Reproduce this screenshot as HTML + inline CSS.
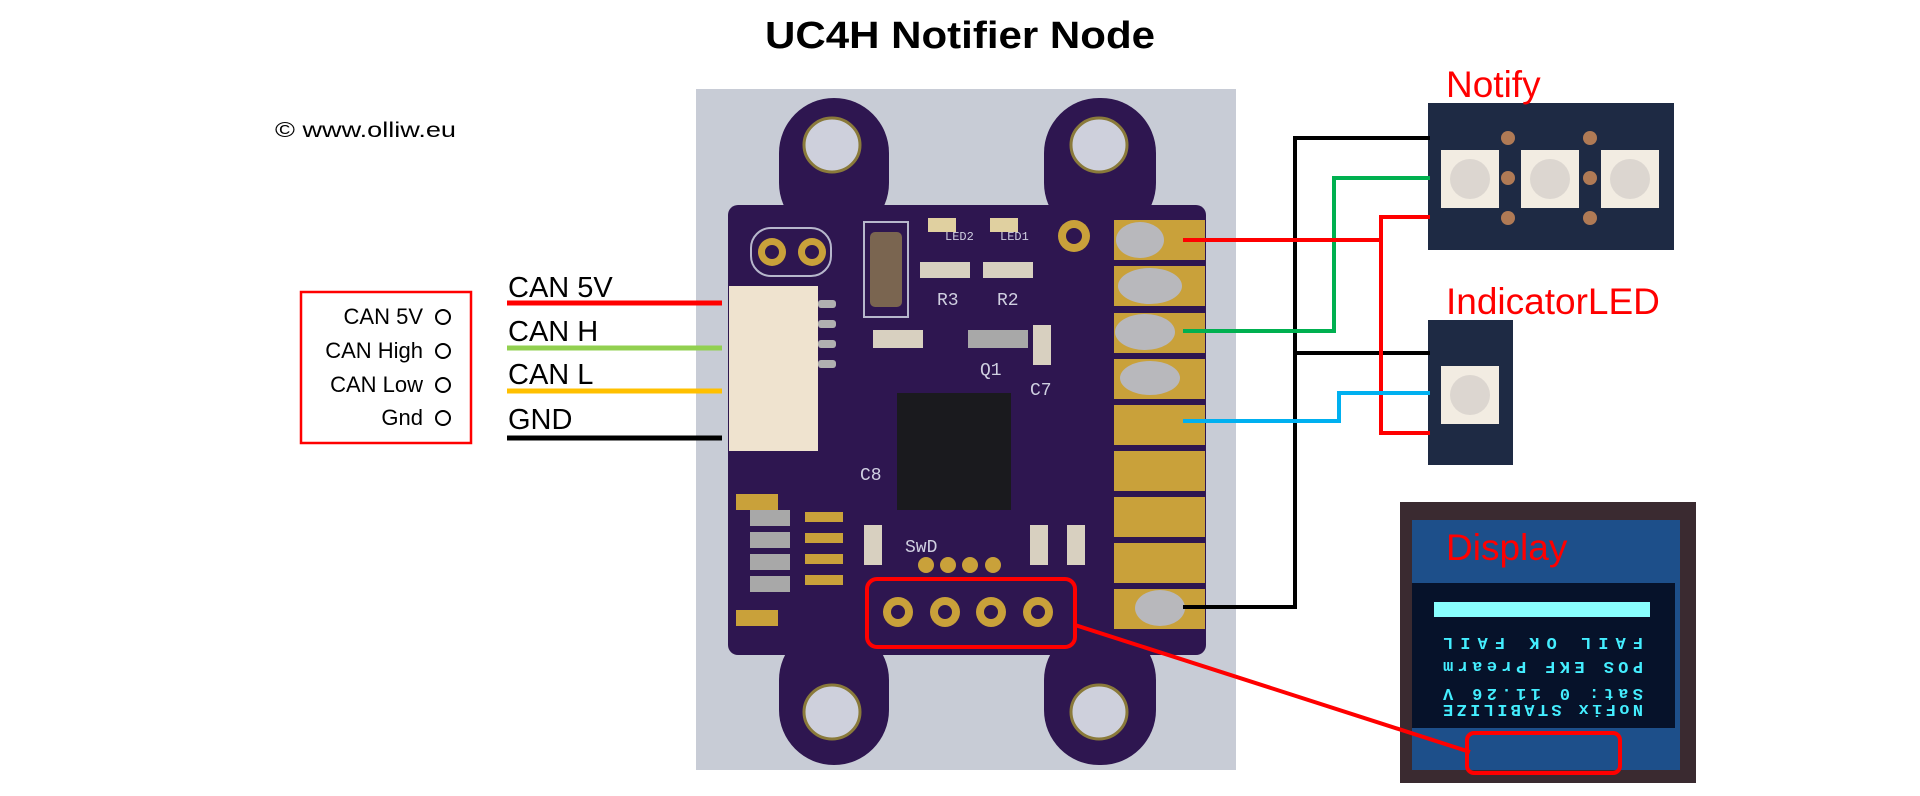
<!DOCTYPE html>
<html><head><meta charset="utf-8"><style>
html,body{margin:0;padding:0;background:#fff;}
svg{display:block;}
</style></head><body>
<svg width="1920" height="796" viewBox="0 0 1920 796" xmlns="http://www.w3.org/2000/svg" font-family="Liberation Sans, sans-serif">
<rect width="1920" height="796" fill="#fff"/>
<text x="765" y="48" font-size="38" font-weight="bold" textLength="390" lengthAdjust="spacingAndGlyphs">UC4H Notifier Node</text>
<text x="275" y="137" font-size="21" textLength="181" lengthAdjust="spacingAndGlyphs">© www.olliw.eu</text>

<rect x="301" y="292" width="170" height="151" fill="none" stroke="#f00" stroke-width="2.5"/>
<g font-size="22" text-anchor="end">
<text x="423" y="324">CAN 5V</text>
<text x="423" y="358">CAN High</text>
<text x="423" y="392">CAN Low</text>
<text x="423" y="425">Gnd</text>
</g>
<g fill="none" stroke="#000" stroke-width="2">
<circle cx="443" cy="317" r="7"/><circle cx="443" cy="351" r="7"/><circle cx="443" cy="385" r="7"/><circle cx="443" cy="418" r="7"/>
</g>

<rect x="696" y="89" width="540" height="681" fill="#c8ccd6"/>
<g fill="#2e1650">
<rect x="779" y="98" width="110" height="140" rx="55"/>
<rect x="1044" y="98" width="112" height="140" rx="55"/>
<rect x="779" y="625" width="110" height="140" rx="55"/>
<rect x="1044" y="625" width="112" height="140" rx="55"/>
<rect x="728" y="205" width="478" height="450" rx="10"/>
</g>
<g fill="#ced0dc" stroke="#8a7a3a" stroke-width="3">
<ellipse cx="832" cy="145" rx="28" ry="27"/><ellipse cx="1099" cy="145" rx="28" ry="27"/>
<ellipse cx="832" cy="712" rx="28" ry="27"/><ellipse cx="1099" cy="712" rx="28" ry="27"/>
</g>
<g fill="#c9a13a">
<rect x="1114" y="220" width="91" height="40"/><rect x="1114" y="266" width="91" height="40"/>
<rect x="1114" y="313" width="91" height="40"/><rect x="1114" y="359" width="91" height="40"/>
<rect x="1114" y="405" width="91" height="40"/><rect x="1114" y="451" width="91" height="40"/>
<rect x="1114" y="497" width="91" height="40"/><rect x="1114" y="543" width="91" height="40"/>
<rect x="1114" y="589" width="91" height="40"/>
</g>
<g fill="#b8b8bc">
<ellipse cx="1140" cy="240" rx="24" ry="18"/><ellipse cx="1150" cy="286" rx="32" ry="18"/>
<ellipse cx="1145" cy="332" rx="30" ry="18"/><ellipse cx="1150" cy="378" rx="30" ry="17"/>
<ellipse cx="1160" cy="608" rx="25" ry="18"/>
</g>
<rect x="729" y="286" width="89" height="165" fill="#efe3cf"/>
<g fill="#b0b0b0"><rect x="818" y="300" width="18" height="8" rx="3"/><rect x="818" y="320" width="18" height="8" rx="3"/><rect x="818" y="340" width="18" height="8" rx="3"/><rect x="818" y="360" width="18" height="8" rx="3"/></g>
<rect x="751" y="228" width="80" height="48" rx="20" fill="none" stroke="#b7b7cc" stroke-width="2"/>
<g fill="#c9a13a"><circle cx="772" cy="252" r="14"/><circle cx="812" cy="252" r="14"/><circle cx="1074" cy="236" r="16"/></g>
<g fill="#2e1650"><circle cx="772" cy="252" r="7"/><circle cx="812" cy="252" r="7"/><circle cx="1074" cy="236" r="8"/></g>
<rect x="864" y="222" width="44" height="95" fill="none" stroke="#b7b7cc" stroke-width="2"/>
<rect x="870" y="232" width="32" height="75" rx="5" fill="#7a6550"/>
<rect x="928" y="218" width="28" height="14" fill="#e0d0a0"/><rect x="990" y="218" width="28" height="14" fill="#e0d0a0"/>
<rect x="920" y="262" width="50" height="16" fill="#d8d0c0"/><rect x="983" y="262" width="50" height="16" fill="#d8d0c0"/>
<rect x="968" y="330" width="60" height="18" fill="#a8a8a8"/>
<rect x="873" y="330" width="50" height="18" fill="#d8d0c0"/>
<rect x="1033" y="325" width="18" height="40" fill="#d8d0c0"/>
<rect x="897" y="393" width="114" height="117" fill="#1a1a1e"/>
<g fill="#c9a13a"><rect x="736" y="494" width="42" height="16"/><rect x="736" y="610" width="42" height="16"/>
<rect x="805" y="512" width="38" height="10"/><rect x="805" y="533" width="38" height="10"/><rect x="805" y="554" width="38" height="10"/><rect x="805" y="575" width="38" height="10"/></g>
<g fill="#a8a8a8"><rect x="750" y="510" width="40" height="16"/><rect x="750" y="532" width="40" height="16"/><rect x="750" y="554" width="40" height="16"/><rect x="750" y="576" width="40" height="16"/></g>
<rect x="864" y="525" width="18" height="40" fill="#d8d0c0"/><rect x="1030" y="525" width="18" height="40" fill="#d8d0c0"/><rect x="1067" y="525" width="18" height="40" fill="#d8d0c0"/>
<g fill="#c9a13a"><circle cx="926" cy="565" r="8"/><circle cx="948" cy="565" r="8"/><circle cx="970" cy="565" r="8"/><circle cx="993" cy="565" r="8"/>
<circle cx="898" cy="612" r="15"/><circle cx="945" cy="612" r="15"/><circle cx="991" cy="612" r="15"/><circle cx="1038" cy="612" r="15"/></g>
<g fill="#2e1650"><circle cx="898" cy="612" r="7"/><circle cx="945" cy="612" r="7"/><circle cx="991" cy="612" r="7"/><circle cx="1038" cy="612" r="7"/></g>
<g fill="#cfcfe0" font-size="18" font-family="Liberation Mono, monospace">
<text x="945" y="240" font-size="12">LED2</text><text x="1000" y="240" font-size="12">LED1</text>
<text x="937" y="305">R3</text><text x="997" y="305">R2</text><text x="980" y="375">Q1</text>
<text x="1030" y="395">C7</text><text x="860" y="480">C8</text><text x="905" y="552">SwD</text>
</g>
<rect x="867" y="579" width="208" height="68" rx="10" fill="none" stroke="#f00" stroke-width="4"/>

<g font-size="29">
<text x="508" y="297">CAN 5V</text><text x="508" y="341">CAN H</text><text x="508" y="384">CAN L</text><text x="508" y="429">GND</text>
</g>
<line x1="507" y1="303" x2="722" y2="303" stroke="#f00" stroke-width="5"/>
<line x1="507" y1="348" x2="722" y2="348" stroke="#92d050" stroke-width="5"/>
<line x1="507" y1="391" x2="722" y2="391" stroke="#ffc000" stroke-width="5"/>
<line x1="507" y1="438" x2="722" y2="438" stroke="#000" stroke-width="5"/>

<rect x="1428" y="103" width="246" height="147" fill="#1e2a44"/>
<g fill="#f2ece2"><rect x="1441" y="150" width="58" height="58"/><rect x="1521" y="150" width="58" height="58"/><rect x="1601" y="150" width="58" height="58"/></g>
<g fill="#dcd6d0"><circle cx="1470" cy="179" r="20"/><circle cx="1550" cy="179" r="20"/><circle cx="1630" cy="179" r="20"/></g>
<g fill="#b07a55"><circle cx="1508" cy="138" r="7"/><circle cx="1508" cy="178" r="7"/><circle cx="1508" cy="218" r="7"/><circle cx="1590" cy="138" r="7"/><circle cx="1590" cy="178" r="7"/><circle cx="1590" cy="218" r="7"/></g>
<rect x="1428" y="320" width="85" height="145" fill="#1e2a44"/>
<rect x="1441" y="366" width="58" height="58" fill="#f2ece2"/><circle cx="1470" cy="395" r="20" fill="#dcd6d0"/>
<text x="1446" y="97" font-size="37" fill="#f00">Notify</text>
<text x="1446" y="314" font-size="37" fill="#f00">IndicatorLED</text>

<rect x="1400" y="502" width="296" height="281" fill="#3a2a30"/>
<rect x="1412" y="520" width="268" height="250" fill="#1d4f8a"/>
<rect x="1412" y="583" width="263" height="145" fill="#06122a"/>
<rect x="1434" y="602" width="216" height="15" fill="#8ff"/>
<g fill="#4ef" font-family="Liberation Mono, monospace" font-size="17" font-weight="bold" text-anchor="middle">
<text x="1543" y="628" transform="rotate(180 1543 633)" textLength="200" lengthAdjust="spacing">FAIL  OK  FAIL</text>
<text x="1543" y="652" transform="rotate(180 1543 657)" textLength="200" lengthAdjust="spacing">POS EKF Prearm</text>
<text x="1543" y="679" transform="rotate(180 1543 684)" textLength="200" lengthAdjust="spacing">Sat: 0  11.26 V</text>
<text x="1543" y="695" transform="rotate(180 1543 700)" textLength="200" lengthAdjust="spacing">NoFix STABILIZE</text>
</g>
<text x="1446" y="560" font-size="37" fill="#f00">Display</text>
<rect x="1467" y="733" width="153" height="40" rx="7" fill="none" stroke="#f00" stroke-width="4"/>
<line x1="1075" y1="625" x2="1470" y2="752" stroke="#f00" stroke-width="4"/>

<g fill="none" stroke-width="4">
<polyline points="1183,607 1295,607 1295,138 1430,138" stroke="#000"/>
<line x1="1295" y1="353" x2="1430" y2="353" stroke="#000"/>
<polyline points="1183,331 1334,331 1334,178 1430,178" stroke="#00b050"/>
<line x1="1183" y1="240" x2="1381" y2="240" stroke="#f00"/>
<polyline points="1430,217 1381,217 1381,433 1430,433" stroke="#f00"/>
<polyline points="1183,421 1339,421 1339,393 1430,393" stroke="#00b0f0"/>
</g>
</svg>
</body></html>
